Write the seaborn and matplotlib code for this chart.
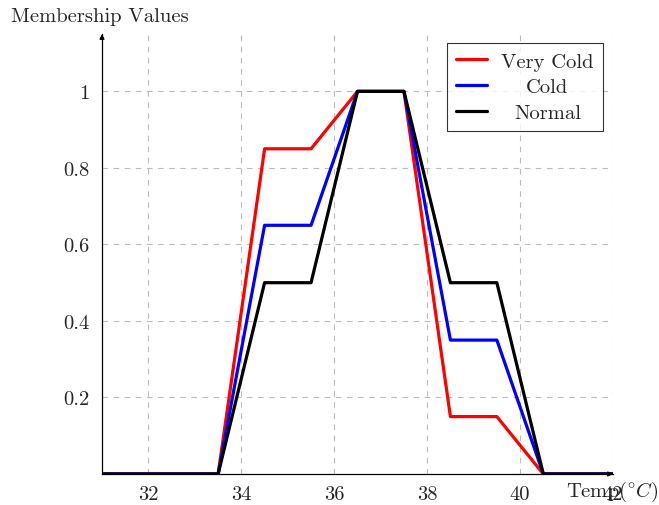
import matplotlib
matplotlib.use("Agg")
import matplotlib.pyplot as plt
from matplotlib.transforms import Affine2D
import seaborn as sns
import pandas as pd

temps = [31, 33.5, 34.5, 35.5, 36.5, 37.5, 38.5, 39.5, 40.5, 42]
very_cold = [0, 0, 0.85, 0.85, 1, 1, 0.15, 0.15, 0, 0]
cold = [0, 0, 0.65, 0.65, 1, 1, 0.35, 0.35, 0, 0]
normal = [0, 0, 0.5, 0.5, 1, 1, 0.5, 0.5, 0, 0]
series_names = ["Very Cold", "Cold", "Normal"]
x_ticks = [32, 34, 36, 38, 40, 42]
y_ticks = [0.2, 0.4, 0.6, 0.8, 1]
y_tick_labels = ["0.2", "0.4", "0.6", "0.8", "1"]

sns.set_style("white")
plt.rcParams["font.family"] = ["cmr10", "DejaVu Serif"]
plt.rcParams["mathtext.fontset"] = "cm"
plt.rcParams["axes.formatter.use_mathtext"] = True

FS = 14.8

df = pd.DataFrame({
    "temp": temps * 3,
    "value": very_cold + cold + normal,
    "set": [series_names[0]] * len(temps) + [series_names[1]] * len(temps) + [series_names[2]] * len(temps),
})

fig = plt.figure(figsize=(6.59, 5.06), dpi=100)
ax = fig.add_axes([102 / 659, 1 - 475 / 506, 511 / 659, 440 / 506])

sns.lineplot(data=df, x="temp", y="value", hue="set", hue_order=series_names,
             palette=["#ff0000", "#0000ff", "#000000"], linewidth=2.3,
             sort=False, ax=ax, legend=True)

ax.set_xlim(31, 42)
ax.set_ylim(0, 1.15)
ax.set_xticks(x_ticks)
ax.set_yticks(y_ticks)
ax.set_xticklabels([str(t) for t in x_ticks])
ax.set_yticklabels(y_tick_labels)
ax.tick_params(direction="inout", length=6, width=0.6, color="#666666",
               labelsize=FS)
ax.tick_params(axis="x", pad=5)
ax.tick_params(axis="y", pad=6)
ax.grid(True, linestyle=(0, (5, 5)), color="#bbbbbb", linewidth=0.8)
ax.set_axisbelow(True)

for side in ["top", "right"]:
    ax.spines[side].set_visible(False)
for side in ["left", "bottom"]:
    ax.spines[side].set_linewidth(0.9)
    ax.spines[side].set_color("black")

# axis arrows
ax.annotate("", xy=(1.0, 0), xycoords="axes fraction", xytext=(0.99, 0),
            arrowprops=dict(arrowstyle="-|>", color="black", lw=0.9,
                            mutation_scale=7, shrinkA=0, shrinkB=0))
ax.annotate("", xy=(0, 1.0), xycoords="axes fraction", xytext=(0, 0.99),
            arrowprops=dict(arrowstyle="-|>", color="black", lw=0.9,
                            mutation_scale=7, shrinkA=0, shrinkB=0))

ax.set_xlabel("")
ax.set_ylabel("")
fig.text(11 / 659, 1 - 17 / 506, "Membership Values", fontsize=FS,
         ha="left", va="center")
fig.text(566 / 659, 1 - 492 / 506, r"Temp$(^{\circ}C)$", fontsize=FS,
         ha="left", va="center")

leg = ax.legend(loc="upper right", bbox_to_anchor=(0.9804, 0.9795),
                borderaxespad=0, fontsize=FS,
                frameon=True, fancybox=False, edgecolor="black",
                handlelength=1.5, borderpad=0.45, labelspacing=0.36,
                handletextpad=0.7)
leg.get_frame().set_linewidth(0.8)
for line in leg.get_lines():
    line.set_linewidth(2.3)

# center the legend labels within their column
fig.canvas.draw()
renderer = fig.canvas.get_renderer()
texts = leg.get_texts()
widths = [t.get_window_extent(renderer).width for t in texts]
wmax = max(widths)
for t, w in zip(texts, widths):
    t.set_transform(t.get_transform() + Affine2D().translate((wmax - w) / 2, 0))

fig.savefig("out.png", dpi=100)
